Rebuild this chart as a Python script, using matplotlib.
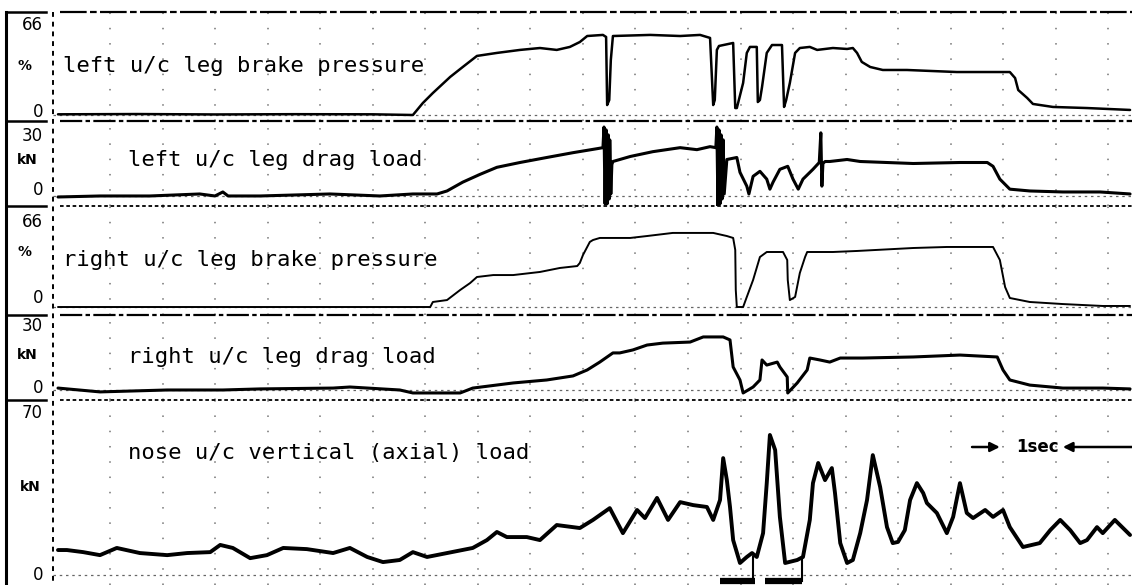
import matplotlib
matplotlib.use("Agg")
import matplotlib.pyplot as plt
import matplotlib.transforms as mtransforms
from matplotlib.lines import Line2D

# ---------------------------------------------------------------- data ----
# time in seconds, brake pressure in %, loads in kN

t_left_press = [0.0, 1.5, 3.0, 4.5, 6.0, 6.76, 6.95, 7.14, 7.47, 7.71,
                7.98, 8.36, 8.80, 9.18, 9.50, 9.75, 9.94, 10.08, 10.38, 10.44,
                10.46, 10.50, 10.53, 10.57, 11.28, 11.85, 12.23, 12.42, 12.48, 12.51,
                12.55, 12.59, 12.86, 12.90, 12.93, 13.05, 13.12, 13.18, 13.31, 13.33,
                13.37, 13.41, 13.50, 13.60, 13.79, 13.83, 13.87, 13.94, 14.04, 14.13,
                14.32, 14.46, 14.76, 15.03, 15.14, 15.22, 15.31, 15.47, 15.71, 16.17,
                16.61, 17.12, 17.56, 18.13, 18.23, 18.29, 18.46, 18.57, 18.95, 19.60,
                20.42]
left_press = [0.5, 0.7, 0.4, 0.6, 0.5, 0.0, 8.8, 16.1, 27.9, 35.2,
              43.3, 45.5, 47.7, 49.1, 47.7, 49.9, 53.5, 57.9, 58.7, 57.2,
              7.3, 11.0, 40.3, 57.9, 58.7, 57.9, 58.7, 56.5, 7.3, 11.0,
              47.7, 50.6, 52.8, 5.1, 5.1, 23.5, 45.5, 49.9, 49.9, 9.5,
              11.0, 20.5, 45.5, 51.3, 51.3, 5.9, 11.0, 23.5, 45.5, 49.1,
              49.9, 47.7, 49.1, 48.4, 49.1, 45.5, 38.9, 35.2, 33.0, 33.0,
              32.3, 31.5, 31.5, 31.5, 27.1, 18.3, 12.5, 8.1, 5.9, 5.1,
              3.7]

t_left_drag = [0.0, 0.8, 1.75, 2.7, 2.99, 3.14, 3.24, 3.85, 5.18, 6.13,
               6.76, 7.22, 7.41, 7.71, 8.04, 8.36, 8.80, 9.31, 9.81, 10.27,
               10.38, 10.40, 10.42, 10.44, 10.46, 10.48, 10.50, 10.51, 10.53, 10.55,
               10.57, 10.90, 11.33, 11.85, 12.17, 12.42, 12.53, 12.55, 12.57, 12.59,
               12.61, 12.63, 12.65, 12.67, 12.69, 12.74, 12.93, 12.99, 13.12, 13.16,
               13.24, 13.37, 13.50, 13.56, 13.62, 13.75, 13.90, 14.00, 14.10, 14.19,
               14.38, 14.50, 14.53, 14.55, 14.57, 14.61, 14.70, 15.03, 15.28, 16.29,
               17.18, 17.70, 17.81, 17.94, 18.13, 18.51, 19.14, 19.85, 20.42]
left_drag = [-0.5, 0.0, 0.0, 1.0, 0.0, 2.0, 0.0, 0.0, 1.0, 0.0,
             1.0, 1.0, 2.5, 6.9, 10.8, 14.3, 16.7, 19.2, 21.6, 23.6,
             24.1, 34.4, -3.9, 33.0, -3.9, 30.5, -1.5, 28.0, 1.0, 15.7,
             17.2, 19.7, 22.1, 24.1, 23.1, 24.6, 24.1, 34.4, -4.9, 33.0,
             -3.9, 30.5, -1.5, 28.0, 1.0, 18.2, 19.2, 11.8, 4.9, 1.0,
             9.8, 12.3, 8.4, 3.4, 6.9, 13.3, 14.8, 8.4, 3.4, 8.4,
             13.3, 16.7, 31.5, 4.9, 16.2, 17.2, 17.2, 18.2, 17.2, 16.2,
             16.7, 16.7, 14.8, 8.4, 3.4, 2.5, 2.0, 2.0, 1.0]

t_right_press = [0.0, 3.66, 7.09, 7.14, 7.41, 7.66, 7.85, 7.98, 8.29, 8.67,
                 9.18, 9.56, 9.89, 9.94, 10.00, 10.08, 10.13, 10.19, 10.32, 10.90,
                 11.22, 11.71, 12.48, 12.74, 12.86, 12.90, 12.91, 12.93, 13.05, 13.12,
                 13.24, 13.37, 13.50, 13.81, 13.89, 13.90, 13.94, 14.04, 14.13, 14.23,
                 14.27, 14.76, 15.22, 16.29, 16.93, 17.81, 17.94, 18.04, 18.13, 18.51,
                 19.14, 19.90, 20.42]
right_press = [0.0, 0.0, 0.0, 3.9, 5.4, 13.2, 18.6, 23.3, 24.8, 24.8,
               27.2, 30.3, 31.8, 34.2, 40.4, 46.6, 50.5, 52.0, 53.6, 53.6,
               55.1, 57.5, 57.5, 55.1, 53.6, 44.3, 13.2, 0.0, 0.0, 7.8,
               21.0, 38.8, 42.7, 42.7, 36.5, 21.0, 5.4, 7.8, 26.4, 38.8,
               42.7, 42.7, 43.5, 45.8, 46.6, 46.6, 36.5, 15.5, 7.0, 3.9,
               2.3, 0.8, 0.8]

t_right_drag = [0.0, 0.8, 2.08, 3.14, 3.85, 5.24, 5.56, 6.51, 6.76, 7.66,
                7.90, 8.67, 9.31, 9.81, 10.08, 10.32, 10.57, 10.70, 10.95, 11.22,
                11.52, 12.04, 12.29, 12.67, 12.80, 12.86, 12.99, 13.05, 13.24, 13.37,
                13.41, 13.50, 13.70, 13.75, 13.89, 13.90, 14.08, 14.27, 14.32, 14.51,
                14.70, 14.90, 15.33, 16.29, 17.18, 17.89, 18.00, 18.13, 18.51, 19.14,
                19.90, 20.42]
right_drag = [0.9, -0.9, 0.0, 0.0, 0.5, 0.9, 1.4, 0.0, -1.4, -1.4,
              0.9, 3.3, 4.7, 6.6, 9.4, 13.1, 17.4, 17.4, 18.8, 21.1,
              22.0, 22.5, 24.9, 24.9, 23.5, 10.8, 4.7, -1.4, 1.4, 4.7,
              14.1, 11.7, 13.1, 10.8, 6.1, -1.4, 3.3, 9.4, 15.0, 14.1,
              13.1, 15.0, 15.0, 15.5, 16.4, 15.5, 9.4, 4.7, 2.3, 0.9,
              0.9, 0.5]

t_nose = [0.0, 0.17, 0.48, 0.80, 1.12, 1.56, 2.08, 2.46, 2.90, 3.09,
          3.33, 3.66, 3.98, 4.29, 4.74, 5.24, 5.56, 5.89, 6.19, 6.51,
          6.76, 7.03, 7.41, 7.90, 8.17, 8.36, 8.55, 8.93, 9.18, 9.50,
          9.94, 10.19, 10.51, 10.76, 11.03, 11.18, 11.41, 11.62, 11.85, 12.10,
          12.36, 12.48, 12.61, 12.67, 12.74, 12.80, 12.86, 12.99, 13.12, 13.22,
          13.31, 13.43, 13.50, 13.56, 13.66, 13.75, 13.85, 14.08, 14.19, 14.32,
          14.38, 14.48, 14.61, 14.74, 14.80, 14.90, 15.03, 15.14, 15.28, 15.41,
          15.52, 15.66, 15.79, 15.90, 16.00, 16.13, 16.23, 16.36, 16.48, 16.55,
          16.74, 16.93, 17.05, 17.18, 17.31, 17.43, 17.66, 17.81, 18.00, 18.13,
          18.38, 18.70, 18.90, 19.09, 19.28, 19.47, 19.60, 19.79, 19.90, 20.13,
          20.42]
nose_load = [10.8, 10.8, 9.9, 8.6, 11.7, 9.5, 8.6, 9.5, 9.9, 13.0,
             11.7, 7.3, 8.6, 11.7, 11.2, 9.5, 11.7, 7.8, 5.6, 6.5,
             9.9, 7.8, 9.5, 11.7, 15.1, 18.6, 16.4, 16.4, 15.1, 21.6,
             20.3, 23.8, 28.9, 18.1, 28.1, 24.6, 33.3, 23.8, 31.5, 30.2,
             29.4, 23.8, 32.4, 50.5, 41.0, 29.4, 15.1, 5.2, 7.8, 9.5,
             7.8, 18.1, 39.7, 60.5, 54.0, 25.1, 5.2, 6.5, 7.8, 23.8,
             39.7, 48.4, 41.0, 46.2, 35.4, 13.8, 5.2, 6.5, 18.1, 32.4,
             51.8, 38.0, 20.7, 13.8, 14.3, 19.4, 32.4, 39.7, 35.4, 31.1,
             26.8, 18.1, 25.1, 39.7, 26.8, 24.6, 28.1, 25.1, 28.1, 20.7,
             12.1, 13.8, 19.4, 23.8, 19.4, 13.8, 15.1, 20.7, 18.1, 23.8,
             17.3]

# event bars under the nose trace (start, end in s) and their marker ticks
event_bars = [(12.61, 13.28), (13.47, 14.17)]
event_ticks = [13.24, 14.17]

panel_titles = ["left u/c leg brake pressure",
                "left u/c leg drag load",
                "right u/c leg brake pressure",
                "right u/c leg drag load",
                "nose u/c vertical (axial) load"]
panel_units = ["%", "kN", "%", "kN", "kN"]
panel_full_scale = [66, 30, 66, 30, 70]

# --------------------------------------------------------------- layout ---
W, H = 1132, 585
fig = plt.figure(figsize=(W / 100, H / 100), dpi=100)
fig.patch.set_facecolor("white")


def fx(x):
    return x / W


def fy(y):
    return 1 - y / H


def fig_line(x0, y0, x1, y1, **kw):
    fig.add_artist(Line2D([fx(x0), fx(x1)], [fy(y0), fy(y1)],
                          transform=fig.transFigure, color="black", **kw))


X_LEFT = 53
T_LIM = (-0.095, 20.457)

# panel frame rows (pixel top, bottom), y-limits, trace widths
rows = [(12, 121), (121, 206), (206, 315), (315, 400), (400, 585)]
ylims = [(-4.4, 75.5), (-5.0, 37.4), (-6.2, 78.4), (-4.7, 35.2), (-4.3, 75.6)]
widths = [1.8, 2.2, 1.4, 2.2, 2.8]
title_pos = [(63, 66), (128, 160), (63, 260), (128, 357), (128, 453)]
unit_pos = [(25, 66), (27, 160), (25, 252), (27, 355), (30, 487)]
zero_lift = [3, 6, 9, 2, 0]

series = [(t_left_press, left_press), (t_left_drag, left_drag),
          (t_right_press, right_press), (t_right_drag, right_drag),
          (t_nose, nose_load)]

mono = "DejaVu Sans Mono"

axes = []
for i, ((top, bot), lim, (tt, vv)) in enumerate(zip(rows, ylims, series)):
    ax = fig.add_axes([fx(X_LEFT), fy(bot), fx(W) - fx(X_LEFT), (bot - top) / H])
    ax.set_xlim(*T_LIM)
    ax.set_ylim(*lim)
    ax.axis("off")
    # sparse chart-paper dots at each second
    for s in range(1, 21):
        ax.axvline(s, color="black", lw=1.1, alpha=0.55,
                   linestyle=(0, (1.0, 9.0)))
    # zero reference
    ax.axhline(0, color="black", lw=0.9, alpha=0.6, linestyle=(0, (2.0, 3.0)))
    ax.plot(tt, vv, color="black", lw=widths[i], solid_joinstyle="round",
            solid_capstyle="round")

    # scale labels
    tr = mtransforms.blended_transform_factory(fig.transFigure, ax.transData)
    lift = mtransforms.ScaledTranslation(0, zero_lift[i] / 100, fig.dpi_scale_trans)
    ax.text(fx(43), panel_full_scale[i], str(panel_full_scale[i]), transform=tr,
            ha="right", va="center", fontsize=12, color="black")
    ax.text(fx(43), 0, "0", transform=tr + lift, ha="right", va="center",
            fontsize=12, color="black")
    fig.text(fx(unit_pos[i][0]), fy(unit_pos[i][1]), panel_units[i],
             ha="center", va="center", fontsize=10, fontweight="bold")
    fig.text(fx(title_pos[i][0]), fy(title_pos[i][1]), panel_titles[i],
             ha="left", va="center", fontsize=16, family=mono, color="black")
    axes.append(ax)

ax5 = axes[4]
for a, b in event_bars:
    ax5.plot([a, b], [-2.6, -2.6], color="black", lw=4.5, solid_capstyle="butt")
for t in event_ticks:
    ax5.plot([t, t], [-2.6, 7.8], color="black", lw=1.5)

# one-second scale marker
y_sec = 55.3
ax5.annotate("", xy=(17.94, y_sec), xytext=(17.41, y_sec),
             arrowprops=dict(arrowstyle="-|>", lw=1.8, color="black",
                             mutation_scale=14, shrinkA=0, shrinkB=0))
ax5.annotate("", xy=(19.14, y_sec), xytext=(20.46, y_sec),
             arrowprops=dict(arrowstyle="-|>", lw=1.8, color="black",
                             mutation_scale=14, shrinkA=0, shrinkB=0))
ax5.text(18.65, y_sec, "1sec", ha="center", va="center", fontsize=12,
         fontweight="bold")

# frame: outer left rule, dashed inner rule, row separators
fig_line(6, 12, 6, 585, lw=2.2)
fig_line(X_LEFT, 12, X_LEFT, 585, lw=1.4, linestyle=(0, (2.5, 2.5)))
for k, (top, bot) in enumerate(rows):
    fig_line(6, top, 46, top, lw=1.8)
fig_line(60, 12, W, 12, lw=1.6, linestyle=(0, (12, 1.5, 3, 1.5)))
fig_line(60, 121, W, 121, lw=1.6, linestyle=(0, (10, 1.5, 2, 1.5)))
fig_line(60, 206, W, 206, lw=1.3, linestyle=(0, (2, 1.5)))
fig_line(60, 315, W, 315, lw=1.6, linestyle=(0, (10, 1.5, 2, 1.5)))
fig_line(60, 400, W, 400, lw=1.3, linestyle=(0, (2, 1.5)))

fig.savefig("out.png", dpi=100, facecolor="white")
